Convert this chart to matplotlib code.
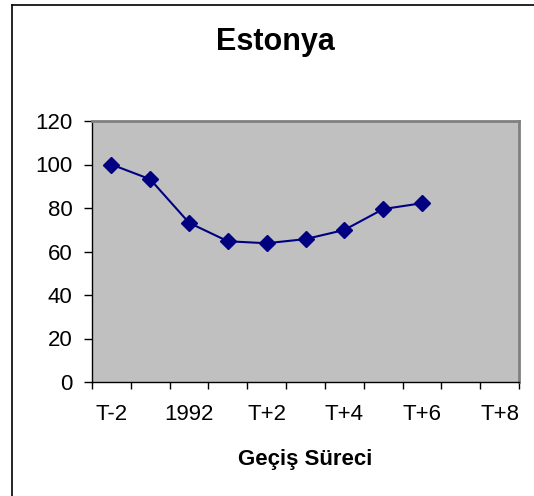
import matplotlib.pyplot as plt
from matplotlib.lines import Line2D

# data
categories = ['T-2', 'T-1', '1992', 'T+1', 'T+2', 'T+3', 'T+4', 'T+5', 'T+6', 'T+7', 'T+8']
values = [100, 93.2, 73.2, 64.7, 63.8, 65.7, 69.9, 79.5, 82.2]
yticks = [0, 20, 40, 60, 80, 100, 120]

plt.rcParams['font.family'] = ['Liberation Sans', 'DejaVu Sans']

fig = plt.figure(figsize=(5.34, 4.96), dpi=100)
ax = fig.add_axes([92 / 534, 114 / 496, 427 / 534, 261 / 496])

x = list(range(len(values)))
ax.plot(x, values, color='#000080', linewidth=1.5, marker='D', markersize=8,
        markerfacecolor='#000080', markeredgecolor='#000080', clip_on=False)

ax.set_facecolor('#C0C0C0')
ax.set_xlim(-0.5, len(categories) - 0.5)
ax.set_ylim(0, 120)

ax.set_yticks(yticks)
ax.set_xticks([i - 0.5 for i in range(len(categories) + 1)], minor=False)
ax.set_xticklabels([])
ax.set_xticks(range(0, len(categories), 2), minor=True)
ax.set_xticklabels([categories[i] for i in range(0, len(categories), 2)], minor=True)

ax.tick_params(axis='y', direction='out', length=6, width=1, pad=8, labelsize=16)
ax.tick_params(axis='x', which='major', direction='out', length=5, width=1)
ax.tick_params(axis='x', which='minor', length=0, pad=16, labelsize=16)

for s in ['left', 'bottom']:
    ax.spines[s].set_color('black')
    ax.spines[s].set_linewidth(1)
for s in ['top', 'right']:
    ax.spines[s].set_color('#808080')
    ax.spines[s].set_linewidth(2)

fig.text(275.5 / 534, 1 - 42 / 496, 'Estonya', ha='center', va='center',
         fontsize=22, fontweight='bold')
fig.text(305.5 / 534, 1 - 459 / 496, 'Geçiş Süreci', ha='center', va='center',
         fontsize=16, fontweight='bold')

# outer chart border (top and left edges visible)
fig.add_artist(Line2D([12 / 534, 12 / 534], [0, 1 - 5 / 496], color='black', linewidth=1.2,
                      transform=fig.transFigure))
fig.add_artist(Line2D([12 / 534, 1], [1 - 5 / 496, 1 - 5 / 496], color='black', linewidth=1.2,
                      transform=fig.transFigure))

plt.savefig('out.png', facecolor='white')
plt.close()
